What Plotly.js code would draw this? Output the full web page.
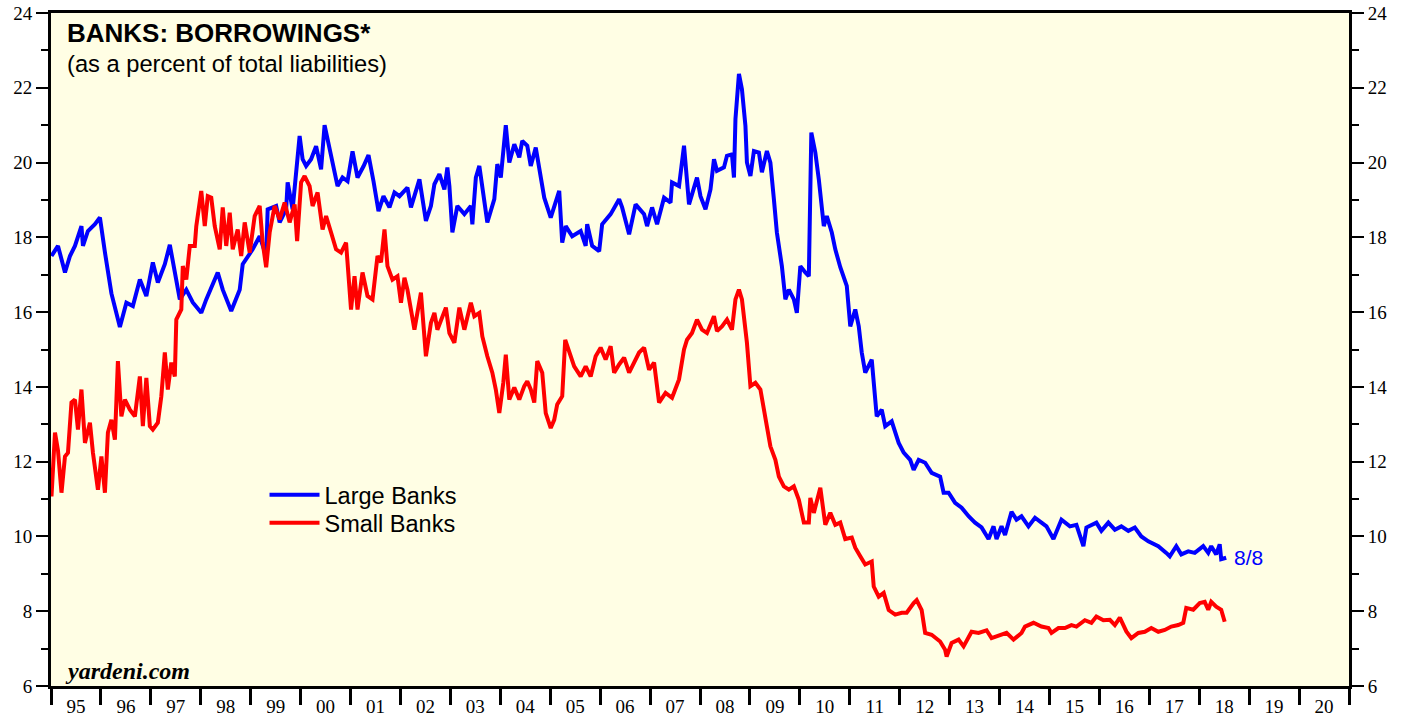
<!DOCTYPE html>
<html>
<head>
<meta charset="utf-8">
<script src="https://cdn.plot.ly/plotly-3.0.1.min.js"></script>
<style>html,body{margin:0;padding:0;background:#fff;}#chart{width:1408px;height:717px;}</style>
</head>
<body>
<div id="chart"></div>
<script>
// Large Banks: decimal year, percent of total liabilities
const largeYears = [1995.01,1995.14,1995.28,1995.38,1995.48,1995.61,1995.64,1995.74,1995.88,1995.98,1996.08,1996.21,1996.38,1996.51,1996.64,1996.78,1996.91,1997.04,1997.14,1997.28,1997.38,1997.51,1997.58,1997.71,1997.84,1998.01,1998.11,1998.34,1998.44,1998.61,1998.78,1998.84,1999.04,1999.18,1999.31,1999.34,1999.51,1999.58,1999.71,1999.74,1999.84,1999.98,2000.04,2000.11,2000.21,2000.31,2000.41,2000.48,2000.58,2000.64,2000.74,2000.84,2000.94,2001.04,2001.14,2001.26,2001.36,2001.46,2001.56,2001.66,2001.78,2001.88,2001.98,2002.14,2002.21,2002.38,2002.48,2002.51,2002.61,2002.68,2002.78,2002.88,2002.94,2002.98,2003.04,2003.14,2003.28,2003.41,2003.44,2003.51,2003.58,2003.64,2003.74,2003.88,2003.94,2004.01,2004.11,2004.18,2004.28,2004.38,2004.44,2004.54,2004.61,2004.71,2004.78,2004.88,2005.01,2005.18,2005.24,2005.31,2005.44,2005.61,2005.71,2005.74,2005.84,2005.98,2006.04,2006.21,2006.38,2006.44,2006.58,2006.71,2006.88,2006.94,2007.04,2007.14,2007.28,2007.41,2007.44,2007.58,2007.68,2007.78,2007.88,2007.94,2008.01,2008.11,2008.21,2008.28,2008.34,2008.48,2008.54,2008.64,2008.68,2008.71,2008.78,2008.84,2008.91,2008.94,2009.01,2009.08,2009.18,2009.24,2009.34,2009.41,2009.48,2009.54,2009.64,2009.71,2009.78,2009.88,2009.94,2010.01,2010.11,2010.18,2010.23,2010.31,2010.38,2010.48,2010.54,2010.64,2010.71,2010.81,2010.94,2011.01,2011.11,2011.18,2011.24,2011.31,2011.44,2011.48,2011.54,2011.64,2011.71,2011.84,2011.98,2012.08,2012.21,2012.28,2012.38,2012.51,2012.64,2012.81,2012.88,2012.98,2013.11,2013.24,2013.38,2013.51,2013.64,2013.78,2013.88,2013.94,2014.04,2014.11,2014.24,2014.34,2014.44,2014.58,2014.71,2014.84,2014.94,2015.08,2015.24,2015.41,2015.54,2015.68,2015.74,2015.94,2016.04,2016.18,2016.31,2016.44,2016.58,2016.71,2016.84,2016.98,2017.18,2017.34,2017.41,2017.54,2017.64,2017.78,2017.91,2018.08,2018.18,2018.24,2018.34,2018.41,2018.44,2018.54];
const largeBanks = [17.5,17.77,17.06,17.5,17.77,18.3,17.77,18.17,18.35,18.53,17.6,16.5,15.6,16.25,16.16,16.87,16.43,17.33,16.79,17.28,17.8,16.8,16.34,16.6,16.26,15.98,16.34,17.06,16.6,16.03,16.6,17.28,17.68,18.03,17.5,18.75,18.84,18.4,18.75,19.47,18.75,20.71,20.09,19.91,20.09,20.44,19.82,21.0,20.36,20.09,19.37,19.6,19.5,20.3,19.6,19.9,20.2,19.5,18.7,19.1,18.8,19.2,19.1,19.33,18.8,19.55,18.67,18.44,18.84,19.42,19.69,19.28,19.87,19.37,18.13,18.84,18.62,18.84,18.35,19.6,19.91,19.28,18.4,19.02,19.96,19.6,21.0,20.0,20.49,20.14,20.58,20.45,19.91,20.4,19.78,19.06,18.53,19.24,17.86,18.3,18.03,18.17,17.77,18.35,17.77,17.63,18.35,18.62,19.02,18.8,18.08,18.88,18.62,18.3,18.8,18.35,19.06,18.93,19.47,19.37,20.45,18.88,19.33,19.6,19.1,18.75,19.28,20.09,19.78,19.87,20.18,20.22,19.6,21.16,22.37,21.96,20.98,20.0,19.64,20.31,20.27,19.74,20.31,20.0,19.02,18.13,17.23,16.34,16.6,16.34,15.98,17.23,17.06,16.96,20.8,20.27,19.55,18.3,18.57,18.13,17.68,17.2,16.7,15.62,16.07,15.62,14.92,14.38,14.73,14.02,13.21,13.39,12.95,13.08,12.5,12.24,12.05,11.78,12.05,11.97,11.7,11.6,11.17,11.17,10.9,10.77,10.54,10.37,10.24,9.93,10.27,9.93,10.27,10.04,10.66,10.45,10.54,10.27,10.5,10.37,10.27,9.93,10.45,10.27,10.31,9.74,10.24,10.37,10.15,10.37,10.18,10.27,10.15,10.24,10.0,9.87,9.74,9.56,9.47,9.74,9.52,9.6,9.56,9.74,9.56,9.74,9.52,9.79,9.39,9.43];

// Small Banks
const smallYears = [1995.01,1995.08,1995.14,1995.21,1995.28,1995.34,1995.41,1995.48,1995.54,1995.61,1995.68,1995.78,1995.84,1995.94,1996.01,1996.08,1996.14,1996.21,1996.28,1996.34,1996.41,1996.48,1996.58,1996.68,1996.78,1996.84,1996.91,1996.98,1997.04,1997.14,1997.21,1997.28,1997.34,1997.41,1997.48,1997.51,1997.61,1997.64,1997.71,1997.78,1997.88,1997.91,1998.01,1998.08,1998.14,1998.21,1998.28,1998.38,1998.44,1998.51,1998.58,1998.64,1998.74,1998.81,1998.88,1998.98,1999.08,1999.18,1999.24,1999.31,1999.38,1999.48,1999.58,1999.68,1999.78,1999.88,1999.93,2000.01,2000.08,2000.18,2000.24,2000.34,2000.44,2000.51,2000.61,2000.71,2000.81,2000.91,2001.01,2001.08,2001.14,2001.24,2001.34,2001.44,2001.54,2001.61,2001.68,2001.74,2001.84,2001.94,2002.01,2002.08,2002.14,2002.21,2002.28,2002.41,2002.51,2002.61,2002.68,2002.74,2002.84,2002.91,2002.98,2003.08,2003.18,2003.28,2003.41,2003.48,2003.58,2003.64,2003.74,2003.84,2003.91,2003.98,2004.06,2004.11,2004.18,2004.28,2004.38,2004.48,2004.54,2004.61,2004.68,2004.74,2004.84,2004.91,2005.01,2005.08,2005.14,2005.24,2005.3,2005.38,2005.48,2005.61,2005.71,2005.81,2005.91,2006.01,2006.11,2006.21,2006.28,2006.38,2006.48,2006.58,2006.68,2006.78,2006.88,2006.98,2007.08,2007.14,2007.18,2007.31,2007.44,2007.58,2007.68,2007.74,2007.84,2007.94,2008.04,2008.14,2008.28,2008.34,2008.44,2008.54,2008.64,2008.71,2008.78,2008.84,2008.94,2009.01,2009.11,2009.21,2009.31,2009.41,2009.51,2009.58,2009.68,2009.78,2009.88,2009.98,2010.08,2010.18,2010.21,2010.28,2010.41,2010.51,2010.61,2010.71,2010.81,2010.91,2011.04,2011.11,2011.21,2011.31,2011.44,2011.48,2011.58,2011.68,2011.78,2011.91,2012.04,2012.14,2012.28,2012.34,2012.44,2012.51,2012.64,2012.81,2012.91,2012.94,2013.04,2013.18,2013.28,2013.44,2013.58,2013.74,2013.84,2014.01,2014.14,2014.28,2014.44,2014.51,2014.68,2014.84,2014.98,2015.04,2015.18,2015.31,2015.44,2015.54,2015.71,2015.84,2015.94,2016.08,2016.21,2016.31,2016.41,2016.54,2016.64,2016.78,2016.91,2017.04,2017.18,2017.31,2017.44,2017.58,2017.68,2017.74,2017.88,2018.01,2018.11,2018.18,2018.24,2018.34,2018.44,2018.51];
const smallBanks = [11.07,12.78,12.3,11.17,12.14,12.24,13.58,13.66,12.86,13.93,12.5,13.04,12.24,11.25,12.14,11.17,12.78,13.12,12.59,14.69,13.21,13.66,13.39,13.21,14.28,12.95,14.24,12.95,12.86,13.04,13.75,14.92,13.93,14.65,14.28,15.8,16.07,17.23,16.87,17.77,17.77,18.3,19.24,18.3,19.1,19.06,18.3,17.68,18.8,17.77,18.66,17.68,18.21,17.5,18.4,17.59,18.57,18.84,17.86,17.2,18.13,18.84,18.48,18.93,18.4,18.88,17.9,19.47,19.64,19.37,18.84,19.2,18.21,18.57,18.13,17.68,17.59,17.86,16.07,16.96,16.07,17.06,16.43,16.34,17.5,17.33,18.21,17.23,16.87,16.96,16.25,16.92,16.6,15.98,15.53,16.52,14.82,15.71,15.98,15.53,15.89,16.12,15.44,15.18,16.12,15.53,16.25,15.89,15.98,15.35,14.82,14.38,13.93,13.3,14.11,14.86,13.66,13.98,13.66,14.02,14.15,13.93,13.58,14.69,14.38,13.3,12.9,13.12,13.53,13.75,15.26,14.92,14.55,14.28,14.55,14.28,14.82,15.05,14.73,15.09,14.38,14.6,14.78,14.38,14.65,14.92,15.05,14.46,14.65,14.11,13.58,13.84,13.71,14.2,15.0,15.26,15.44,15.8,15.53,15.44,15.89,15.49,15.62,15.8,15.53,16.34,16.6,16.34,15.18,14.02,14.11,13.93,13.21,12.41,12.05,11.6,11.34,11.25,11.34,10.98,10.37,10.37,11.03,10.63,11.3,10.31,10.63,10.31,10.37,9.93,9.97,9.7,9.47,9.25,9.33,8.66,8.39,8.49,8.03,7.91,7.96,7.96,8.22,8.3,8.03,7.42,7.37,7.19,6.97,6.79,7.15,7.24,7.06,7.45,7.42,7.49,7.28,7.37,7.42,7.24,7.42,7.59,7.69,7.59,7.55,7.42,7.55,7.55,7.63,7.59,7.76,7.69,7.86,7.76,7.77,7.63,7.83,7.46,7.28,7.42,7.45,7.55,7.45,7.5,7.59,7.63,7.69,8.09,8.04,8.22,8.25,8.04,8.25,8.12,8.04,7.72];

const yearTicks = [1995,1996,1997,1998,1999,2000,2001,2002,2003,2004,2005,2006,2007,2008,2009,2010,2011,2012,2013,2014,2015,2016,2017,2018,2019,2020,2021];
const yearLabelPos = [1995.5,1996.5,1997.5,1998.5,1999.5,2000.5,2001.5,2002.5,2003.5,2004.5,2005.5,2006.5,2007.5,2008.5,2009.5,2010.5,2011.5,2012.5,2013.5,2014.5,2015.5,2016.5,2017.5,2018.5,2019.5,2020.5];
const yearLabels = ['95','96','97','98','99','00','01','02','03','04','05','06','07','08','09','10','11','12','13','14','15','16','17','18','19','20'];
const yTicks = [6,8,10,12,14,16,18,20,22,24];
const lastDateLabel = '8/8';

const serif = 'Liberation Serif, Times New Roman, serif';
const sans = 'Liberation Sans, Arial, Helvetica, sans-serif';

const traces = [
  {x: largeYears, y: largeBanks, name: 'Large Banks', type: 'scatter', mode: 'lines',
   line: {color: '#0000FF', width: 4}, xaxis: 'x', yaxis: 'y', legend: 'legend'},
  {x: smallYears, y: smallBanks, name: 'Small Banks', type: 'scatter', mode: 'lines',
   line: {color: '#FF0000', width: 4}, xaxis: 'x', yaxis: 'y', legend: 'legend2'}
];

const yCommon = {
  range: [6, 24], tickvals: yTicks, ticks: 'outside', ticklen: 12, tickwidth: 2, tickcolor: '#000',
  showgrid: false, zeroline: false, showline: true, linewidth: 3, linecolor: '#000',
  tickfont: {family: serif, size: 19, color: '#000'},
  minor: {dtick: 1, tick0: 6, ticks: 'outside', ticklen: 7, tickwidth: 2, tickcolor: '#000', showgrid: false}
};

const legendCommon = {xanchor: 'left', yanchor: 'middle', bgcolor: 'rgba(0,0,0,0)',
  font: {family: sans, size: 23.5, color: '#000'}, itemwidth: 50};

const layout = {
  width: 1408, height: 717,
  margin: {l: 51, r: 59, t: 13, b: 31},
  paper_bgcolor: '#FFFFFF',
  plot_bgcolor: '#FFFEE4',
  showlegend: true,
  legend: Object.assign({}, legendCommon, {x: 0.1645, y: 0.2838}),
  legend2: Object.assign({}, legendCommon, {x: 0.1645, y: 0.2422}),
  xaxis: {range: [1995, 2021], tickvals: yearTicks, showticklabels: false, ticks: 'outside',
          ticklen: 16, tickwidth: 3, tickcolor: '#000', showgrid: false, zeroline: false,
          showline: true, linewidth: 3, linecolor: '#000', mirror: true},
  xaxis2: {range: [1995, 2021], overlaying: 'x', side: 'bottom', tickvals: yearLabelPos, ticktext: yearLabels,
           ticks: 'outside', ticklen: 3, tickcolor: 'rgba(0,0,0,0)', showgrid: false, zeroline: false,
           showline: false, tickfont: {family: serif, size: 19, color: '#000'}},
  yaxis: Object.assign({}, yCommon, {side: 'left', mirror: false}),
  yaxis2: Object.assign({}, yCommon, {side: 'right', overlaying: 'y'}),
  annotations: [
    {xref: 'paper', yref: 'paper', x: 0.0105, y: 0.995, xanchor: 'left', yanchor: 'top', showarrow: false,
     text: '<b>BANKS: BORROWINGS*</b>', font: {family: sans, size: 26, color: '#000'}},
    {xref: 'paper', yref: 'paper', x: 0.0105, y: 0.947, xanchor: 'left', yanchor: 'top', showarrow: false,
     text: '(as a percent of total liabilities)', font: {family: sans, size: 23.7, color: '#000'}},
    {xref: 'paper', yref: 'paper', x: 0.009, y: 0.0, xanchor: 'left', yanchor: 'bottom', showarrow: false,
     text: '<b><i>yardeni.com</i></b>', font: {family: serif, size: 24, color: '#000'}},
    {xref: 'x', yref: 'y', x: largeYears[largeYears.length - 1] + 0.11, y: largeBanks[largeBanks.length - 1],
     xanchor: 'left', yanchor: 'middle', showarrow: false, text: lastDateLabel,
     font: {family: sans, size: 21, color: '#0000FF'}}
  ]
};

// invisible trace so xaxis2 / yaxis2 are drawn
traces.push({x: [1995], y: [6], xaxis: 'x2', yaxis: 'y2', mode: 'markers', marker: {opacity: 0}, showlegend: false, hoverinfo: 'skip'});

Plotly.newPlot('chart', traces, layout, {displayModeBar: false, staticPlot: true});
</script>
</body>
</html>
